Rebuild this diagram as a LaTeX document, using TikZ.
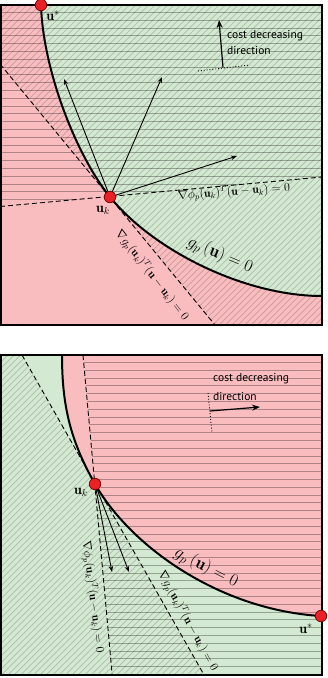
\documentclass[tikz,border=0pt]{standalone}
\usepackage{fontspec}
\newfontfamily\labelfont{PT Sans}
\usetikzlibrary{arrows.meta}
\definecolor{pinkreg}{RGB}{249,189,192}
\definecolor{greenreg}{RGB}{212,233,209}
\definecolor{dotred}{RGB}{235,32,38}
\begin{document}
\begin{tikzpicture}[x=1pt,y=-1pt,
  frame/.style={draw=black,line width=1.8pt},
  curveline/.style={draw=black,line width=2pt},
  dashline/.style={draw=black,dash pattern=on 5pt off 3pt,line width=0.9pt},
  hline/.style={draw=black,opacity=0.3,line width=1pt},
  dline/.style={draw=black,opacity=0.19,line width=0.7pt},
  dot/.style={circle,fill=dotred,draw=red!45!black,line width=0.7pt,minimum size=11.5pt,inner sep=0pt},
  vec/.style={draw=black,-{Stealth[length=6pt,width=4.5pt]},line width=0.9pt},
  costarrow/.style={draw=black,-{Stealth[length=8pt,width=6pt]},line width=1.2pt},
  dotline/.style={draw=black,dotted,line width=0.9pt},
  costtext/.style={font=\labelfont\fontsize{11.5}{14}\selectfont,anchor=base west,inner sep=0pt},
  mathlbl/.style={font=\fontsize{11.5}{13}\selectfont,inner sep=0pt},
  biglbl/.style={font=\fontsize{17}{19}\selectfont,inner sep=0pt},
  ptlbl/.style={font=\fontsize{14}{16}\selectfont,inner sep=0pt}
]
\useasboundingbox (0,0) rectangle (327,678);

% ================= TOP PANEL =================
\coordinate (ustarT) at (41,5);
\coordinate (ukT) at (110,197);
\coordinate (endT) at (322,296);
\begin{scope}
  \clip (1,5) rectangle (322,325);
  \fill[pinkreg] (1,5) rectangle (322,325);
  \fill[greenreg] (ustarT) .. controls (43,70) and (76,155) .. (ukT)
     .. controls (154,251) and (245,296) .. (endT) -- (322,5) -- cycle;
  \begin{scope}
    \clip (0,5) -- (322,5) -- (322,177) -- (0,206.5) -- cycle;
    \foreach \i in {0,...,42} \draw[hline] (0,{4.6+7.8*\i}) -- (322,{4.6+7.8*\i});
  \end{scope}
  \begin{scope}
    \clip (0,5) -- (322,5) -- (322,325) -- (215,325) -- (0,64) -- cycle;
    \foreach \i in {0,...,105} \draw[dline] ({-330+6.4*\i},330) -- ++(340,-340);
  \end{scope}
\end{scope}
\coordinate (tgA) at (0,64);
\coordinate (tgB) at (215,325);
\coordinate (tpA) at (0,206.5);
\coordinate (tpB) at (322,177);
\draw[dashline] (tgA) -- (tgB);
\draw[dashline] (tpA) -- (tpB);
\draw[curveline] (ustarT) .. controls (43,70) and (76,155) .. (ukT)
     .. controls (154,251) and (245,296) .. (endT);
\draw[frame] (1,5) rectangle (322,325);
\node[dot] (ukTn) at (ukT) {};
\node[dot] (usTn) at (ustarT) {};
\coordinate (a1) at (64,79);
\coordinate (a2) at (162,77);
\coordinate (a3) at (237,156);
\draw[vec] (ukTn) -- (a1);
\draw[vec] (ukTn) -- (a2);
\draw[vec] (ukTn) -- (a3);
% cost direction (top)
\coordinate (cdT1) at (198,71);
\coordinate (cdT2) at (250,65);
\coordinate (caT1) at (223,67.5);
\coordinate (caT2) at (219,20);
\draw[dotline] (cdT1) -- (cdT2);
\draw[costarrow] (caT1) -- (caT2);
\node[costtext] (costT1) at (227,38) {cost decreasing};
\node[costtext] (costT2) at (227,54.5) {direction};
% labels (top)
\node[ptlbl] (lusT) at (53,16) {$\mathbf{u}^{*}$};
\node[ptlbl] (lukT) at (103,210) {$\mathbf{u}_k$};
\node[mathlbl,rotate=4] (lphT) at (234,192) {$\nabla\phi_p(\mathbf{u}_k)^T(\mathbf{u}-\mathbf{u}_k)=0$};
\node[mathlbl,rotate=-52] (lgrT) at (152,275) {$\nabla g_p(\mathbf{u}_k)^T(\mathbf{u}-\mathbf{u}_k)=0$};
\node[biglbl,rotate=-23] (lgT) at (220,255) {$g_p\,(\mathbf{u})=0$};

% ================= BOTTOM PANEL =================
\coordinate (bS) at (62,355);
\coordinate (ukB) at (95,484);
\coordinate (ustarB) at (321,616);
\begin{scope}
  \clip (1,355) rectangle (322,675);
  \fill[greenreg] (1,355) rectangle (322,675);
  \fill[pinkreg] (bS) .. controls (62,405) and (70,440) .. (ukB)
     .. controls (131,547) and (220,610) .. (ustarB) -- (322,616) -- (322,355) -- cycle;
  \begin{scope}
    \clip (83,355) -- (322,355) -- (322,675) -- (112.2,675) -- cycle;
    \foreach \i in {0,...,42} \draw[hline] (0,{354.6+7.8*\i}) -- (322,{354.6+7.8*\i});
  \end{scope}
  \begin{scope}
    \clip (0,355) -- (22,355) -- (204.1,675) -- (0,675) -- cycle;
    \foreach \i in {0,...,105} \draw[dline] ({-330+6.4*\i},680) -- ++(340,-340);
  \end{scope}
\end{scope}
\coordinate (bgA) at (22,355);
\coordinate (bgB) at (204.1,675);
\coordinate (bpA) at (83,355);
\coordinate (bpB) at (112.2,675);
\draw[dashline] (bgA) -- (bgB);
\draw[dashline] (bpA) -- (bpB);
\draw[curveline] (bS) .. controls (62,405) and (70,440) .. (ukB)
     .. controls (131,547) and (220,610) .. (ustarB);
\draw[frame] (1,355) rectangle (322,675);
\node[dot] (ukBn) at (ukB) {};
\node[dot] (usBn) at (ustarB) {};
\coordinate (b1) at (112,572);
\coordinate (b2) at (129,572);
\draw[vec] (ukBn) -- (b1);
\draw[vec] (ukBn) -- (b2);
% cost direction (bottom)
\coordinate (cdB1) at (208,393);
\coordinate (cdB2) at (212,433);
\coordinate (caB1) at (210,411);
\coordinate (caB2) at (260,407);
\draw[dotline] (cdB1) -- (cdB2);
\draw[costarrow] (caB1) -- (caB2);
\node[costtext] (costB1) at (213,381) {cost decreasing};
\node[costtext] (costB2) at (213,400) {direction};
% labels (bottom)
\node[ptlbl] (lusB) at (306,629) {$\mathbf{u}^{*}$};
\node[ptlbl] (lukB) at (81,492) {$\mathbf{u}_k$};
\node[mathlbl,rotate=-83] (lphB) at (93,597) {$\nabla\phi_p(\mathbf{u}_k)^T(\mathbf{u}-\mathbf{u}_k)=0$};
\node[mathlbl,rotate=-61] (lgrB) at (188,621) {$\nabla g_p(\mathbf{u}_k)^T(\mathbf{u}-\mathbf{u}_k)=0$};
\node[biglbl,rotate=-27] (lgB) at (206,568) {$g_p\,(\mathbf{u})=0$};
\end{tikzpicture}
\end{document}
